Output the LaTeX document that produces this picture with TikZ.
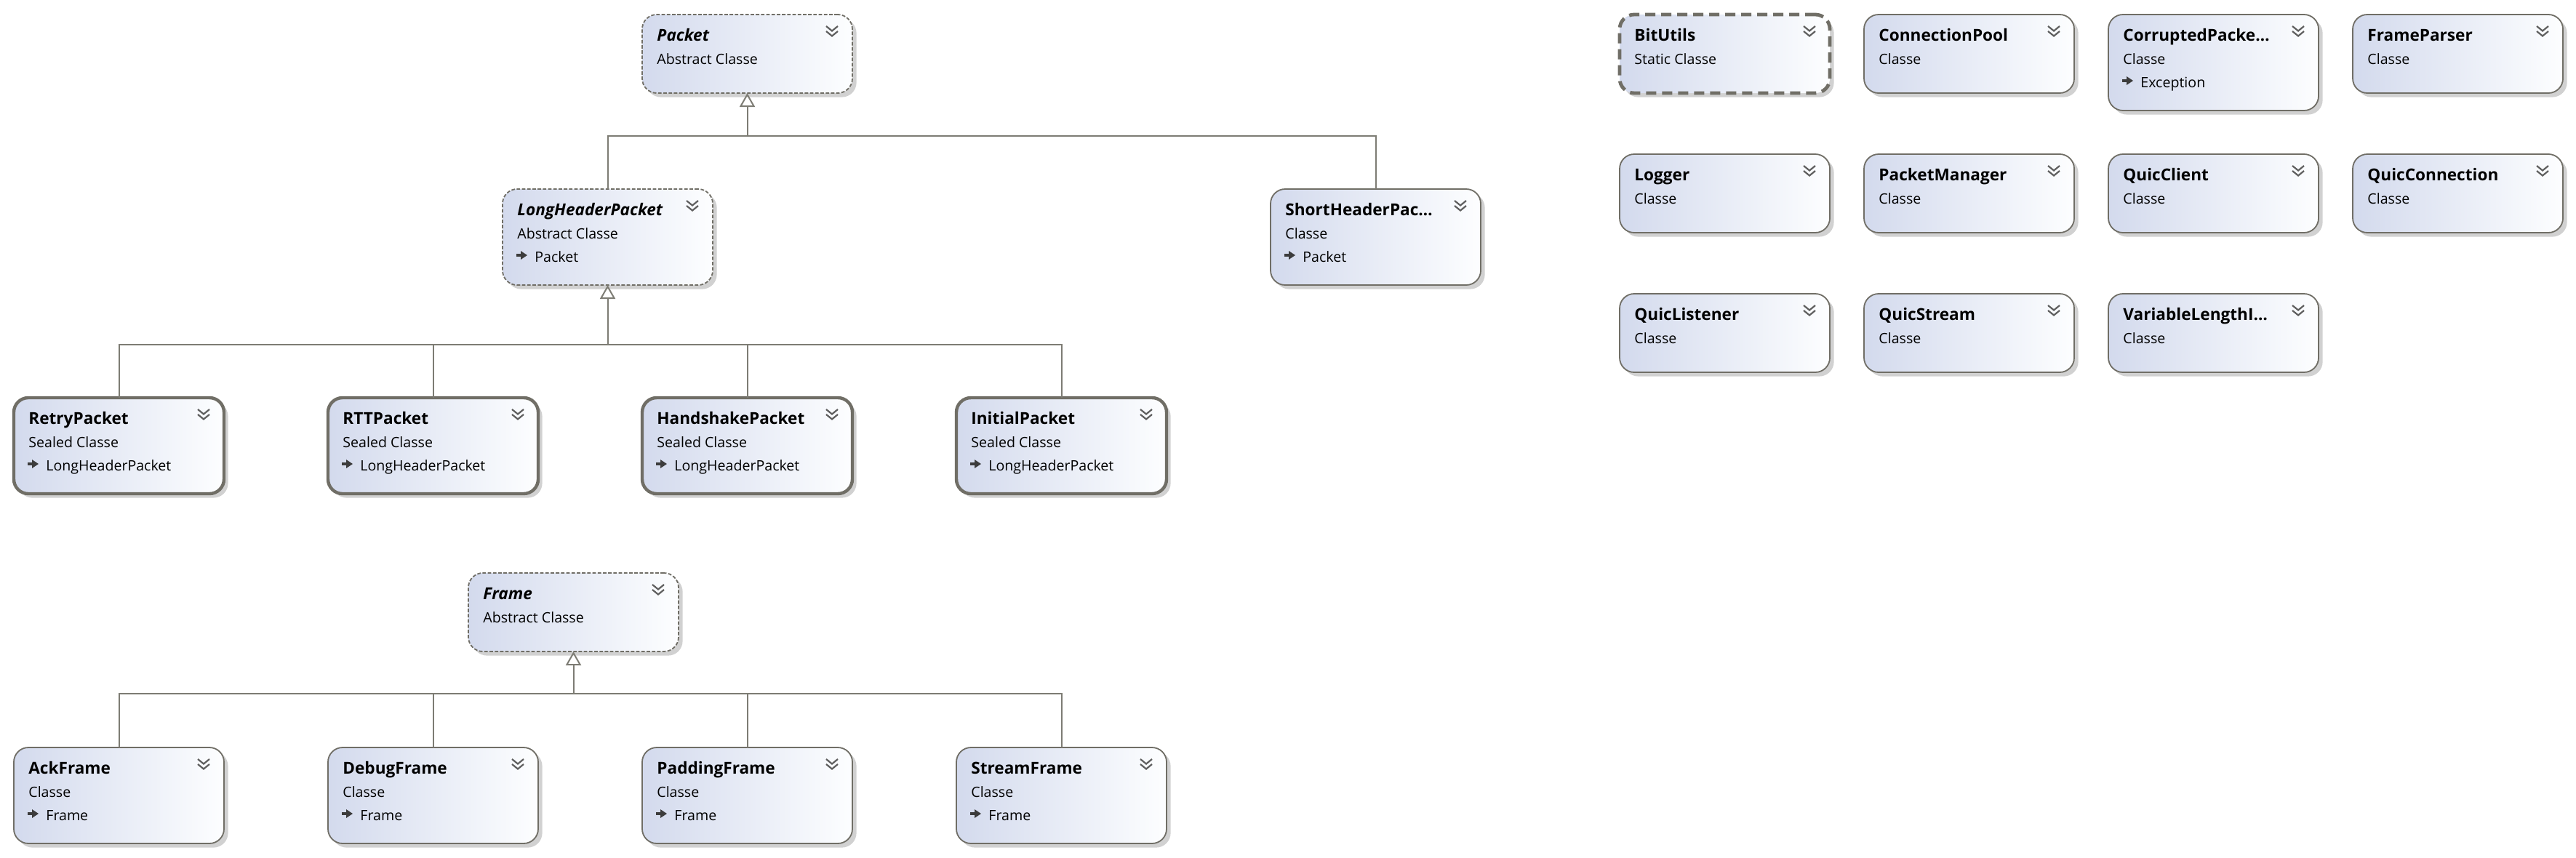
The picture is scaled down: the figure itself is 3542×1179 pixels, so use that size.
\documentclass[tikz,border=0pt]{standalone}
\usepackage{fontspec}
\setmainfont{Open Sans}
\usetikzlibrary{calc,arrows.meta,shadows}
\definecolor{bcol}{RGB}{112,110,102}
\definecolor{ccol}{RGB}{125,124,116}
\definecolor{gl}{RGB}{211,218,237}
\definecolor{gr}{RGB}{253,254,255}
\definecolor{icol}{RGB}{60,60,60}
\definecolor{chcol}{RGB}{95,95,95}
\tikzset{
  clsbox/.style={rectangle, rounded corners=10pt, minimum width=144.5pt, inner sep=0pt, outer sep=0pt,
    left color=gl, right color=gr, draw=bcol,
    drop shadow={shadow xshift=2.8pt, shadow yshift=-2.8pt, fill=black!18, opacity=1}},
  clsplain/.style={clsbox, line width=0.9pt},
  clsabs/.style={clsbox, line width=0.9pt, dash pattern=on 2.4pt off 1.2pt},
  clssealed/.style={clsbox, line width=2.2pt},
  clsstatic/.style={clsbox, line width=2.4pt, dash pattern=on 7pt off 4pt},
  nm/.style={anchor=base west, inner sep=0pt, font=\fontsize{11.3pt}{13pt}\selectfont\bfseries},
  anm/.style={anchor=base west, inner sep=0pt, font=\fontsize{11.3pt}{13pt}\selectfont\bfseries\itshape},
  kd/.style={anchor=base west, inner sep=0pt, font=\fontsize{9.8pt}{12pt}\selectfont},
  conn/.style={draw=ccol, line width=1pt},
  inh/.style={conn, -{Triangle[open, length=9.5pt, width=10.5pt]}},
  chev/.style={draw=chcol, line width=1.1pt},
}
\newcommand\umlcls[8]{%
  \if\relax\detokenize{#8}\relax
    \node[#4, minimum height=54pt, anchor=north west] (#1) at (#2,#3) {};
  \else
    \node[#4, minimum height=66pt, anchor=north west] (#1) at (#2,#3) {};
    \node[kd] (#1p) at ($(#1.north west)+(44,100)$) {#8};
    \draw[icol, line width=1.6pt] ($(#1.north west)+(19,91)$) -- ++(8,0);
    \fill[icol] ($(#1.north west)+(25,85)$) -- ++(9,6) -- ++(-9,6) -- cycle;
  \fi
  \node[#5] (#1n) at ($(#1.north west)+(20,36)$) {#6};
  \node[kd] (#1k) at ($(#1.north west)+(20,68)$) {#7};
  \draw[chev] ($(#1.north east)+(-36,16)$) -- ++(8,6.5) -- ++(8,-6.5);
  \draw[chev] ($(#1.north east)+(-36,23)$) -- ++(8,6.5) -- ++(8,-6.5);
}
\begin{document}
\begin{tikzpicture}[x=0.5pt, y=-0.5pt]
\fill[white] (0,0) rectangle (3542,1179);
\useasboundingbox (0,0) rectangle (3542,1179);

% Packet hierarchy
\umlcls{packet}{883}{20}{clsabs}{anm}{Packet}{Abstract Classe}{}
\umlcls{lhp}{691}{260}{clsabs}{anm}{LongHeaderPacket}{Abstract Classe}{Packet}
\umlcls{shp}{1747}{260}{clsplain}{nm}{ShortHeaderPac…}{Classe}{Packet}
\umlcls{retry}{19}{547}{clssealed}{nm}{RetryPacket}{Sealed Classe}{LongHeaderPacket}
\umlcls{rtt}{451}{547}{clssealed}{nm}{RTTPacket}{Sealed Classe}{LongHeaderPacket}
\umlcls{hand}{883}{547}{clssealed}{nm}{HandshakePacket}{Sealed Classe}{LongHeaderPacket}
\umlcls{init}{1315}{547}{clssealed}{nm}{InitialPacket}{Sealed Classe}{LongHeaderPacket}

% Frame hierarchy
\umlcls{frame}{644}{788}{clsabs}{anm}{Frame}{Abstract Classe}{}
\umlcls{ack}{19}{1028}{clsplain}{nm}{AckFrame}{Classe}{Frame}
\umlcls{debug}{451}{1028}{clsplain}{nm}{DebugFrame}{Classe}{Frame}
\umlcls{padding}{883}{1028}{clsplain}{nm}{PaddingFrame}{Classe}{Frame}
\umlcls{stream}{1315}{1028}{clsplain}{nm}{StreamFrame}{Classe}{Frame}

% Standalone classes
\umlcls{bitutils}{2227}{20}{clsstatic}{nm}{BitUtils}{Static Classe}{}
\umlcls{connpool}{2563}{20}{clsplain}{nm}{ConnectionPool}{Classe}{}
\umlcls{corrupted}{2899}{20}{clsplain}{nm}{CorruptedPacke…}{Classe}{Exception}
\umlcls{frameparser}{3235}{20}{clsplain}{nm}{FrameParser}{Classe}{}
\umlcls{logger}{2227}{212}{clsplain}{nm}{Logger}{Classe}{}
\umlcls{pktmgr}{2563}{212}{clsplain}{nm}{PacketManager}{Classe}{}
\umlcls{qclient}{2899}{212}{clsplain}{nm}{QuicClient}{Classe}{}
\umlcls{qconn}{3235}{212}{clsplain}{nm}{QuicConnection}{Classe}{}
\umlcls{qlistener}{2227}{404}{clsplain}{nm}{QuicListener}{Classe}{}
\umlcls{qstream}{2563}{404}{clsplain}{nm}{QuicStream}{Classe}{}
\umlcls{varlen}{2899}{404}{clsplain}{nm}{VariableLengthI…}{Classe}{}

% Connectors
\coordinate (j1) at ($(packet.south)+(0,59)$);
\draw[conn] (lhp.north) |- (j1) -| (shp.north);
\draw[inh] (j1) -- (packet.south);

\coordinate (j2) at ($(lhp.south)+(0,82)$);
\draw[conn] (retry.north) |- (j2) -| (init.north);
\draw[conn] (rtt.north) -- (rtt.north |- j2);
\draw[conn] (hand.north) -- (hand.north |- j2);
\draw[inh] (j2) -- (lhp.south);

\coordinate (j3) at ($(frame.south)+(0,58)$);
\draw[conn] (ack.north) |- (j3) -| (stream.north);
\draw[conn] (debug.north) -- (debug.north |- j3);
\draw[conn] (padding.north) -- (padding.north |- j3);
\draw[inh] (j3) -- (frame.south);
\end{tikzpicture}
\end{document}
